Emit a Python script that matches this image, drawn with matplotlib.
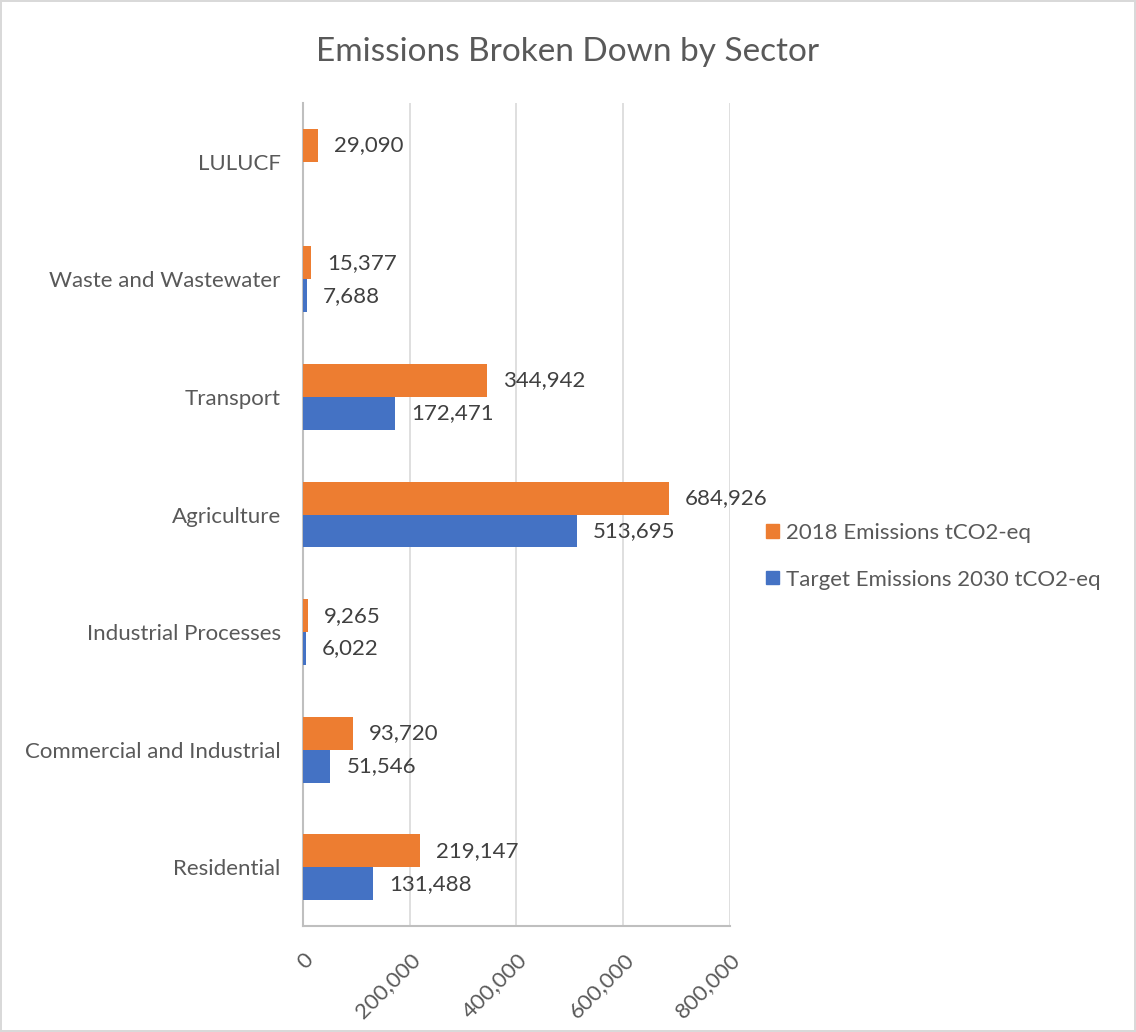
import numpy as np
import matplotlib.pyplot as plt
from matplotlib.ticker import FuncFormatter
from matplotlib.patches import Patch

sectors = ['Residential', 'Commercial and Industrial', 'Industrial Processes',
           'Agriculture', 'Transport', 'Waste and Wastewater', 'LULUCF']
emissions_2018 = [219147, 93720, 9265, 684926, 344942, 15377, 29090]
target_2030 = [131488, 51546, 6022, 513695, 172471, 7688, np.nan]
x_ticks = [0, 200000, 400000, 600000, 800000]

orange = '#ED7D31'
blue = '#4472C4'
grey_txt = '#595959'

plt.rcParams['font.family'] = ['Lato', 'DejaVu Sans']

fig = plt.figure(figsize=(11.36, 10.32), dpi=100)
fig.patch.set_edgecolor('#D9D9D9')
fig.patch.set_linewidth(1.5)
ax = fig.add_axes([0.2667, 0.1027, 0.3759, 0.7975])

y = np.arange(len(sectors))
h = 0.28
bars_o = ax.barh(y + h / 2, emissions_2018, height=h, color=orange, label='2018 Emissions tCO2-eq', zorder=3)
bars_b = ax.barh(y - h / 2, target_2030, height=h, color=blue, label='Target Emissions 2030 tCO2-eq', zorder=3)

# value labels to the right of each bar
for bars, vals in [(bars_o, emissions_2018), (bars_b, target_2030)]:
    for b, v in zip(bars, vals):
        if np.isnan(v):
            continue
        ax.annotate(f'{v:,.0f}', (v, b.get_y() + b.get_height() / 2),
                    xytext=(16, 0), textcoords='offset pixels',
                    va='center', ha='left', fontsize=16, color='#404040')

ax.set_xlim(0, 800000)
ax.set_ylim(-0.5, len(sectors) - 0.5)
ax.set_xticks(x_ticks)
ax.xaxis.set_major_formatter(FuncFormatter(lambda v, p: f'{v:,.0f}'))
ax.set_yticks(y)
ax.set_yticklabels(sectors)
ax.tick_params(axis='both', length=0, labelsize=16, labelcolor=grey_txt)
ax.tick_params(axis='y', pad=16)
ax.tick_params(axis='x', pad=17)
for lbl in ax.get_xticklabels():
    lbl.set_rotation(45)
    lbl.set_ha('right')
    lbl.set_rotation_mode('anchor')

ax.grid(axis='x', color='#D9D9D9', linewidth=1.2, zorder=0)
for s in ['top', 'right']:
    ax.spines[s].set_visible(False)
for s in ['left', 'bottom']:
    ax.spines[s].set_color('#BFBFBF')
    ax.spines[s].set_linewidth(1.5)

fig.text(0.5, 0.950, 'Emissions Broken Down by Sector', ha='center', va='center',
         fontsize=24, color=grey_txt)

handles = [Patch(color=orange), Patch(color=blue)]
fig.legend(handles, ['2018 Emissions tCO2-eq', 'Target Emissions 2030 tCO2-eq'],
           loc='center left', bbox_to_anchor=(0.657, 0.461), frameon=False,
           fontsize=16, labelcolor=grey_txt, handlelength=0.55, handleheight=0.55,
           handletextpad=0.35, labelspacing=1.2)

plt.savefig('out.png', dpi=100)
